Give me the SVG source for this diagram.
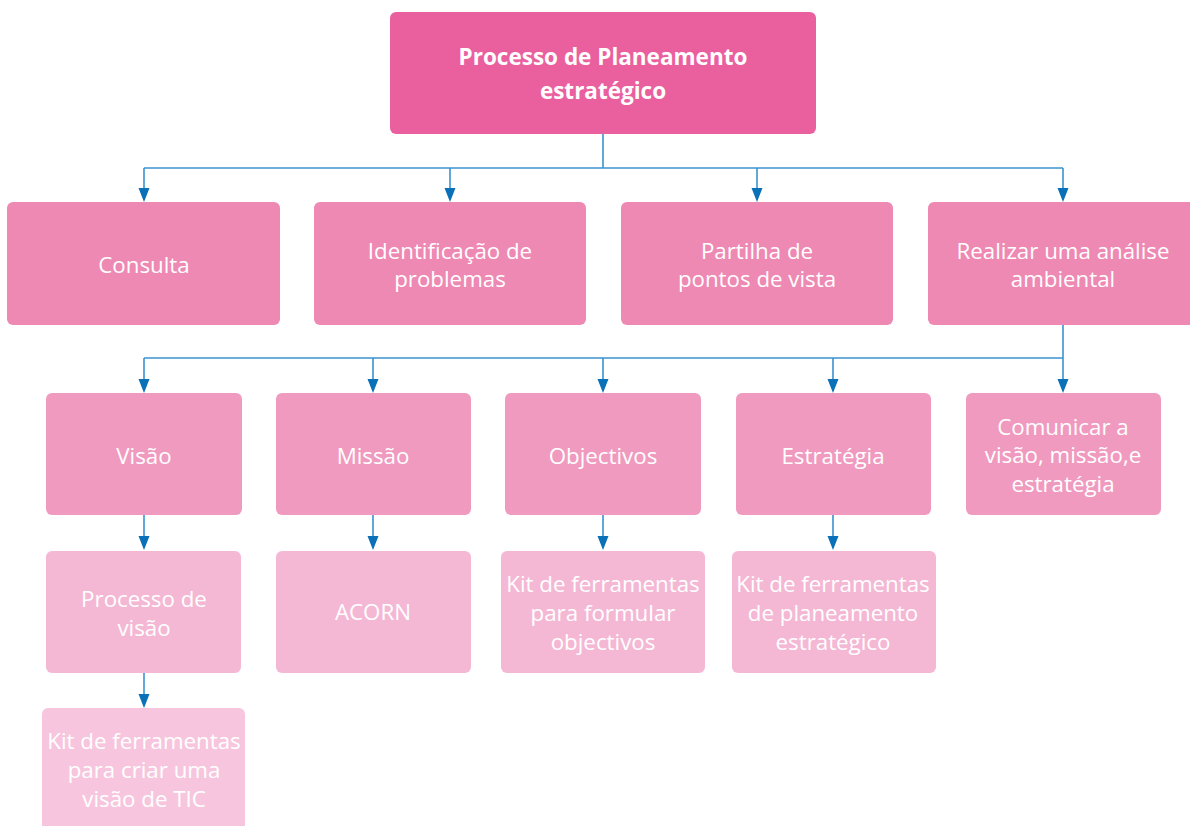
<svg xmlns="http://www.w3.org/2000/svg" width="1190" height="826" viewBox="0 0 1190 826">
  <defs>
    <style>
      .lbl { font-family: "Open Sans", "Liberation Sans", sans-serif; font-size: 22.3px; fill: #ffffff; text-anchor: middle; }
      .title { font-family: "Open Sans", "Liberation Sans", sans-serif; font-size: 22.5px; font-weight: 700; fill: #ffffff; text-anchor: middle; }
      .l0 { fill: #ea609e; }
      .l1 { fill: #ee89b4; }
      .l2 { fill: #f09abf; }
      .l3 { fill: #f4b8d5; }
      .l4 { fill: #f7c6de; }
      .wire { fill: none; stroke: #3b93d0; stroke-width: 1.6; }
      .head { fill: #0a71b9; }
    </style>
  </defs>

  <!-- connectors -->
  <g id="connectors">
    <path class="wire" d="M603,134 V168 M144,168 H1063"/>
    <path class="wire" d="M1063,325 V358 M144,358 H1063"/>
    <!-- level 1 arrows -->
    <path class="wire" d="M144,168 V190 M450,168 V190 M757,168 V190 M1063,168 V190"/>
    <path class="head" d="M138.5,188 L149.5,188 L144,202 Z M444.5,188 L455.5,188 L450,202 Z M751.5,188 L762.5,188 L757,202 Z M1057.5,188 L1068.5,188 L1063,202 Z"/>
    <!-- level 2 arrows -->
    <path class="wire" d="M144,358 V381 M373,358 V381 M603,358 V381 M833,358 V381 M1063,358 V381"/>
    <path class="head" d="M138.5,379 L149.5,379 L144,393 Z M367.5,379 L378.5,379 L373,393 Z M597.5,379 L608.5,379 L603,393 Z M827.5,379 L838.5,379 L833,393 Z M1057.5,379 L1068.5,379 L1063,393 Z"/>
    <!-- level 3 arrows -->
    <path class="wire" d="M144,515 V538 M373,515 V538 M603,515 V538 M833,515 V538"/>
    <path class="head" d="M138.5,536 L149.5,536 L144,550 Z M367.5,536 L378.5,536 L373,550 Z M597.5,536 L608.5,536 L603,550 Z M827.5,536 L838.5,536 L833,550 Z"/>
    <!-- level 4 arrow -->
    <path class="wire" d="M144,673 V696"/>
    <path class="head" d="M138.5,694 L149.5,694 L144,708 Z"/>
  </g>

  <!-- root -->
  <g id="root">
    <rect class="l0" x="390" y="12" width="426" height="122" rx="6"/>
    <text class="title" x="603" y="65">Processo de Planeamento</text>
    <text class="title" x="603" y="99">estratégico</text>
  </g>

  <!-- second level -->
  <g id="consulta">
    <rect class="l1" x="7" y="202" width="273" height="123" rx="6"/>
    <text class="lbl" x="144" y="273">Consulta</text>
  </g>
  <g id="identificacao">
    <rect class="l1" x="314" y="202" width="272" height="123" rx="6"/>
    <text class="lbl" x="450" y="259">Identificação de</text>
    <text class="lbl" x="450" y="287">problemas</text>
  </g>
  <g id="partilha">
    <rect class="l1" x="621" y="202" width="272" height="123" rx="6"/>
    <text class="lbl" x="757" y="259">Partilha de</text>
    <text class="lbl" x="757" y="287">pontos de vista</text>
  </g>
  <g id="analise">
    <rect class="l1" x="928" y="202" width="272" height="123" rx="6"/>
    <text class="lbl" x="1063" y="259">Realizar uma análise</text>
    <text class="lbl" x="1063" y="287">ambiental</text>
  </g>

  <!-- third level -->
  <g id="visao">
    <rect class="l2" x="46" y="393" width="196" height="122" rx="6"/>
    <text class="lbl" x="144" y="464">Visão</text>
  </g>
  <g id="missao">
    <rect class="l2" x="276" y="393" width="195" height="122" rx="6"/>
    <text class="lbl" x="373" y="464">Missão</text>
  </g>
  <g id="objectivos">
    <rect class="l2" x="505" y="393" width="196" height="122" rx="6"/>
    <text class="lbl" x="603" y="464">Objectivos</text>
  </g>
  <g id="estrategia">
    <rect class="l2" x="736" y="393" width="195" height="122" rx="6"/>
    <text class="lbl" x="833" y="464">Estratégia</text>
  </g>
  <g id="comunicar">
    <rect class="l2" x="966" y="393" width="195" height="122" rx="6"/>
    <text class="lbl" x="1063" y="435">Comunicar a</text>
    <text class="lbl" x="1063" y="463">visão, missão,e</text>
    <text class="lbl" x="1063" y="492">estratégia</text>
  </g>

  <!-- fourth level -->
  <g id="processo-visao">
    <rect class="l3" x="46" y="551" width="195" height="122" rx="6"/>
    <text class="lbl" x="144" y="607">Processo de</text>
    <text class="lbl" x="144" y="636">visão</text>
  </g>
  <g id="acorn">
    <rect class="l3" x="276" y="551" width="195" height="122" rx="6"/>
    <text class="lbl" x="373" y="620">ACORN</text>
  </g>
  <g id="kit-objectivos">
    <rect class="l3" x="501" y="551" width="204" height="122" rx="6"/>
    <text class="lbl" x="603" y="592">Kit de ferramentas</text>
    <text class="lbl" x="603" y="621">para formular</text>
    <text class="lbl" x="603" y="650">objectivos</text>
  </g>
  <g id="kit-planeamento">
    <rect class="l3" x="732" y="551" width="204" height="122" rx="6"/>
    <text class="lbl" x="833" y="592">Kit de ferramentas</text>
    <text class="lbl" x="833" y="621">de planeamento</text>
    <text class="lbl" x="833" y="650">estratégico</text>
  </g>

  <!-- fifth level -->
  <g id="kit-visao">
    <rect class="l4" x="42" y="708" width="203" height="130" rx="6"/>
    <text class="lbl" x="144" y="749">Kit de ferramentas</text>
    <text class="lbl" x="144" y="778">para criar uma</text>
    <text class="lbl" x="144" y="807">visão de TIC</text>
  </g>
</svg>
